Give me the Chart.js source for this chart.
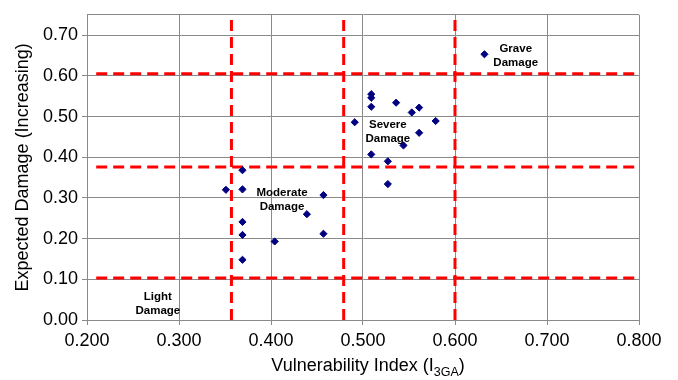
<!DOCTYPE html>
<html>
<head>
<meta charset="utf-8">
<script src="https://cdn.jsdelivr.net/npm/chart.js@4.4.1/dist/chart.umd.min.js"></script>
<style>
  body { margin: 0; background: #fff; }
  #wrap { width: 678px; height: 380px; }
</style>
</head>
<body>
<div id="wrap"><canvas id="damageChart" width="678" height="380"></canvas></div>
<script>
// observed buildings: vulnerability index vs expected damage
const vulnIndex = [0.509, 0.509, 0.509, 0.536, 0.561, 0.553, 0.491, 0.579, 0.561, 0.544, 0.509, 0.527, 0.527,
                   0.369, 0.351, 0.369, 0.457, 0.439, 0.369, 0.369, 0.457, 0.404, 0.369, 0.632];
const expDamage = [0.555, 0.546, 0.524, 0.534, 0.522, 0.510, 0.486, 0.489, 0.460, 0.429, 0.407, 0.390, 0.334,
                   0.368, 0.320, 0.321, 0.307, 0.260, 0.241, 0.209, 0.212, 0.193, 0.148, 0.653];

// damage class thresholds (dashed red lines)
const damageBounds = [0.103, 0.376, 0.605];
const vulnBounds = [0.357, 0.479, 0.600];
const boundStartX = 0.21;
const boundEndX = 0.795;

const zoneNames = [['Light', 'Damage'], ['Moderate', 'Damage'], ['Severe', 'Damage'], ['Grave', 'Damage']];
const zoneX = [0.277, 0.412, 0.527, 0.666];
const zoneY = [0.039, 0.296, 0.462, 0.650];

const xTickLabels = ['0.200', '0.300', '0.400', '0.500', '0.600', '0.700', '0.800'];
const yTickLabels = ['0.00', '0.10', '0.20', '0.30', '0.40', '0.50', '0.60', '0.70'];
const xTitle = ['Vulnerability Index (I', '3GA', ')'];
const yTitle = 'Expected Damage (Increasing)';

const FONT = '"Liberation Sans", Arial, sans-serif';
const gridColor = '#8a8a8a';
Chart.defaults.font.family = FONT;
Chart.defaults.color = '#000';

const datasets = [{
    type: 'scatter',
    data: vulnIndex.map((v, i) => ({ x: v, y: expDamage[i] })),
    pointStyle: 'rectRot',
    pointRadius: 3.6,
    pointBorderWidth: 1,
    backgroundColor: '#000080',
    borderColor: '#000080'
}];

damageBounds.forEach(d => {
    datasets.push({
        type: 'line',
        data: [{ x: boundStartX, y: d }, { x: boundEndX, y: d }],
        borderColor: '#ff0000',
        borderWidth: 3,
        borderDash: [11, 6],
        pointRadius: 0,
        fill: false
    });
});

vulnBounds.forEach(v => {
    datasets.push({
        type: 'line',
        data: [{ x: v, y: 0 }, { x: v, y: 0.75 }],
        borderColor: '#ff0000',
        borderWidth: 3,
        borderDash: [11, 6],
        pointRadius: 0,
        fill: false
    });
});

const zoneLabels = {
    id: 'zoneLabels',
    afterDatasetsDraw(chart) {
        const { ctx, scales: { x, y } } = chart;
        ctx.save();
        ctx.font = 'bold 11.5px ' + FONT;
        ctx.fillStyle = '#000';
        ctx.textAlign = 'center';
        ctx.textBaseline = 'middle';
        zoneNames.forEach((lines, i) => {
            const px = x.getPixelForValue(zoneX[i]);
            const py = y.getPixelForValue(zoneY[i]);
            ctx.fillText(lines[0], px, py - 7);
            ctx.fillText(lines[1], px, py + 7);
        });
        ctx.restore();
    }
};

// x title has a subscript, so it is drawn by hand
const xAxisTitle = {
    id: 'xAxisTitle',
    afterDraw(chart) {
        const { ctx, chartArea } = chart;
        ctx.save();
        ctx.fillStyle = '#000';
        ctx.textBaseline = 'alphabetic';
        const big = '18px ' + FONT;
        const small = '12.5px ' + FONT;
        ctx.font = big;
        const w1 = ctx.measureText(xTitle[0]).width;
        const w3 = ctx.measureText(xTitle[2]).width;
        ctx.font = small;
        const w2 = ctx.measureText(xTitle[1]).width;
        let x0 = (chartArea.left + chartArea.right) / 2 + 5 - (w1 + w2 + w3) / 2;
        const base = 371;
        ctx.font = big;
        ctx.fillText(xTitle[0], x0, base);
        ctx.font = small;
        ctx.fillText(xTitle[1], x0 + w1, base + 5);
        ctx.font = big;
        ctx.fillText(xTitle[2], x0 + w1 + w2, base);
        ctx.restore();
    }
};

new Chart(document.getElementById('damageChart').getContext('2d'), {
    data: { datasets: datasets },
    options: {
        responsive: false,
        animation: false,
        layout: { padding: { top: 5, right: 39, left: 0, bottom: 0 } },
        scales: {
            x: {
                type: 'linear',
                min: 0.2,
                max: 0.8,
                ticks: {
                    stepSize: 0.1,
                    padding: 5,
                    font: { size: 18 },
                    color: '#000',
                    callback: (v, i) => xTickLabels[i]
                },
                grid: { color: gridColor, tickLength: 5, tickColor: gridColor },
                border: { color: gridColor },
                afterFit: s => { s.height = 60; }
            },
            y: {
                type: 'linear',
                min: 0,
                max: 0.75,
                ticks: {
                    stepSize: 0.1,
                    padding: 4,
                    font: { size: 18 },
                    color: '#000',
                    callback: (v, i) => i < yTickLabels.length ? yTickLabels[i] : ''
                },
                grid: {
                    color: gridColor,
                    tickLength: 5,
                    tickColor: c => (c.tick && c.tick.value > 0.71) ? 'rgba(0,0,0,0)' : gridColor
                },
                border: { color: gridColor },
                title: {
                    display: true,
                    text: yTitle,
                    font: { size: 18 },
                    color: '#000',
                    padding: { top: 12, bottom: 0 }
                },
                afterFit: s => { s.width = 87; }
            }
        },
        plugins: {
            legend: { display: false },
            tooltip: { enabled: false }
        }
    },
    plugins: [zoneLabels, xAxisTitle]
});
</script>
</body>
</html>
